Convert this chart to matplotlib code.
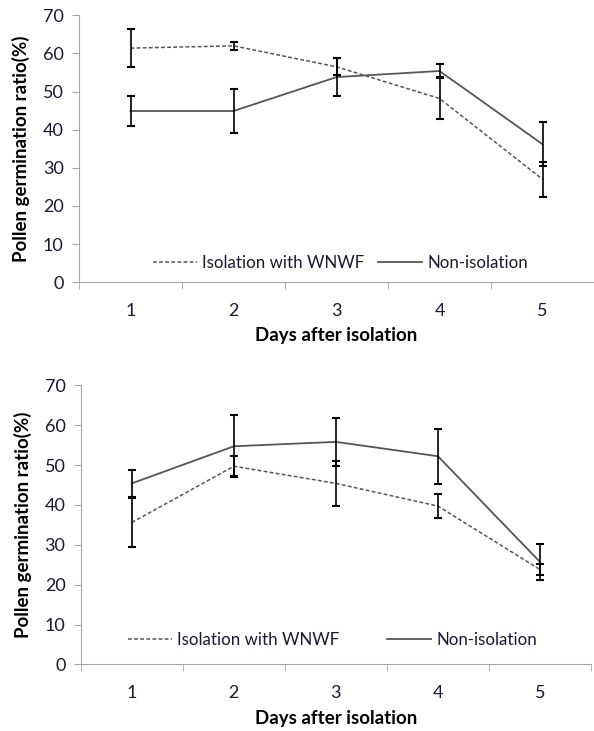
import matplotlib
matplotlib.use("Agg")
import matplotlib.pyplot as plt
import numpy as np

days = [1, 2, 3, 4, 5]

# top panel
top_iso = [61.4, 62.0, 56.5, 48.2, 27.0]
top_iso_err = [5.0, 1.0, 2.2, 5.5, 4.6]
top_non = [44.9, 44.9, 53.8, 55.4, 36.2]
top_non_err = [4.0, 5.8, 5.0, 1.8, 5.7]

# bottom panel
bot_iso = [35.6, 49.7, 45.4, 39.7, 23.8]
bot_iso_err = [6.1, 2.5, 5.7, 3.0, 1.4]
bot_non = [45.4, 54.7, 55.8, 52.2, 25.7]
bot_non_err = [3.4, 7.8, 6.1, 6.9, 4.5]

plt.rcParams['font.family'] = ['Lato', 'DejaVu Sans']

fig = plt.figure(figsize=(5.94, 7.31), dpi=100)
ax_top = fig.add_axes([0.133, 0.614, 0.867, 0.365])
ax_bot = fig.add_axes([0.136, 0.091, 0.859, 0.382])

spine_col = '#a6a6a6'
text_col = '#1a1a2e'


def draw_panel(ax, iso, iso_err, non, non_err, leg_xy, colspace):
    ax.plot(days, iso, color='#555555', lw=1.1, ls=(0, (2.5, 1.5)), label='Isolation with WNWF')
    ax.plot(days, non, color='#555555', lw=1.3, ls='-', label='Non-isolation')
    ax.errorbar(days, iso, yerr=iso_err, fmt='none', ecolor='black', elinewidth=1.2,
                capsize=3, capthick=1.5)
    ax.errorbar(days, non, yerr=non_err, fmt='none', ecolor='black', elinewidth=1.2,
                capsize=3, capthick=1.5)
    ax.set_xlim(0.5, 5.5)
    ax.set_ylim(0, 70)
    ax.set_yticks(range(0, 71, 10))
    ax.set_xticks(days)
    ax.set_xticks(np.arange(0.5, 5.6, 1.0), minor=True)
    ax.tick_params(axis='x', which='major', length=0, pad=15, labelsize=13, labelcolor=text_col)
    ax.tick_params(axis='x', which='minor', length=5, color=spine_col, direction='out')
    ax.tick_params(axis='y', length=5, color=spine_col, labelsize=13, labelcolor=text_col, pad=6)
    for s in ['top', 'right']:
        ax.spines[s].set_visible(False)
    for s in ['left', 'bottom']:
        ax.spines[s].set_color(spine_col)
    ax.set_xlabel('Days after isolation', fontweight='bold', fontsize=13.5, labelpad=6)
    ax.set_ylabel('Pollen germination ratio(%)', fontweight='bold', fontsize=13.5, labelpad=9)
    ax.legend(loc='center left', bbox_to_anchor=leg_xy, ncol=2, frameon=False,
              fontsize=12.2, handlelength=2.6, columnspacing=colspace, handletextpad=0.3,
              borderpad=0, borderaxespad=0, labelcolor=text_col)


draw_panel(ax_top, top_iso, top_iso_err, top_non, top_non_err, (0.144, 0.071), 0.8)
draw_panel(ax_bot, bot_iso, bot_iso_err, bot_non, bot_non_err, (0.093, 0.087), 2.8)

fig.savefig('out.png', dpi=100)
